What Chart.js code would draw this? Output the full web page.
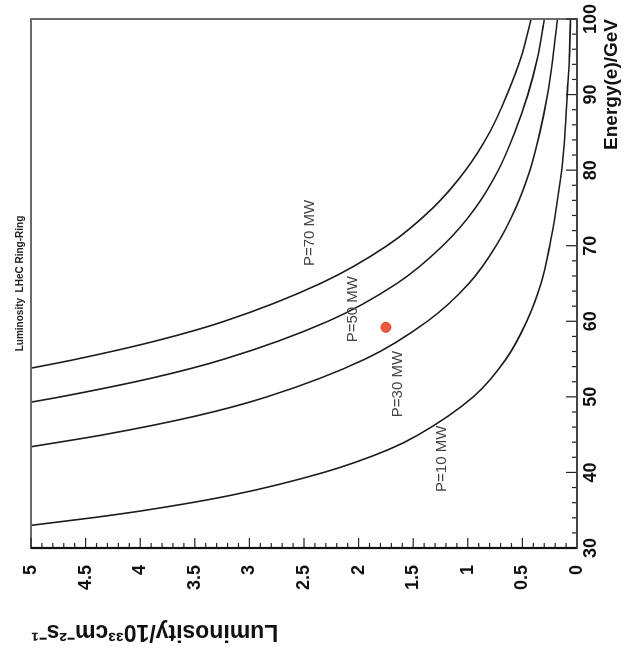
<!DOCTYPE html>
<html>
<head>
<meta charset="utf-8">
<script src="https://cdn.jsdelivr.net/npm/chart.js@4.4.1/dist/chart.umd.min.js"></script>
<style>
  html, body { margin: 0; padding: 0; background: #fff; overflow: hidden; }
  /* the chart is drawn upright, then the whole canvas is turned a quarter turn */
  #wrap {
    position: absolute; left: 0; top: 0;
    width: 657px; height: 626px;
    transform-origin: 0 0;
    transform: translate(0, 657px) rotate(-90deg);
  }
</style>
</head>
<body>
<div id="wrap"><canvas id="lumiChart" width="657" height="626"></canvas></div>
<script>
// values (energy in GeV, luminosity in 10^33 cm^-2 s^-1)
const energyP10 = [33.0, 34, 35, 37, 40, 43, 45, 50, 55, 60, 65, 70, 75, 80, 85, 90, 95, 100];
const lumiP10   = [5.00, 4.44, 3.95, 3.16, 2.32, 1.73, 1.45, 0.95, 0.65, 0.46, 0.33, 0.25, 0.19, 0.14, 0.11, 0.09, 0.07, 0.06];

const energyP30 = [43.4, 45, 47.5, 50, 55, 60, 65, 70, 75, 80, 85, 90, 95, 100];
const lumiP30   = [5.00, 4.33, 3.48, 2.84, 1.94, 1.37, 0.99, 0.74, 0.56, 0.43, 0.34, 0.27, 0.22, 0.18];

const energyP50 = [49.3, 50, 52.5, 55, 60, 65, 70, 75, 80, 85, 90, 95, 100];
const lumiP50   = [5.00, 4.73, 3.89, 3.23, 2.28, 1.65, 1.23, 0.93, 0.72, 0.57, 0.45, 0.36, 0.30];

const energyP70 = [53.8, 55, 57.5, 60, 65, 70, 75, 80, 85, 90, 95, 100];
const lumiP70   = [5.00, 4.58, 3.83, 3.23, 2.35, 1.74, 1.32, 1.02, 0.80, 0.64, 0.51, 0.42];

const curveNames = ["P=10 MW", "P=30 MW", "P=50 MW", "P=70 MW"];
// where each curve's label sits, in data units
const labelEnergy = [41.8, 51.7, 61.6, 71.7];
const labelLumi   = [1.24, 1.64, 2.05, 2.45];

const pointEnergy = [59.2];
const pointLumi   = [1.75];

const energyTicks = [30, 40, 50, 60, 70, 80, 90, 100];
const lumiTicks   = [0, 0.5, 1, 1.5, 2, 2.5, 3, 3.5, 4, 4.5, 5];

const FONT = '"Liberation Sans", Arial, Helvetica, sans-serif';
Chart.defaults.font.family = FONT;
Chart.defaults.color = "#111";

const curves = [
  { energy: energyP10, lumi: lumiP10 },
  { energy: energyP30, lumi: lumiP30 },
  { energy: energyP50, lumi: lumiP50 },
  { energy: energyP70, lumi: lumiP70 },
];

const datasets = curves.map((c, k) => ({
  label: curveNames[k],
  data: c.energy.map((e, i) => ({ x: e, y: c.lumi[i] })),
  showLine: true,
  borderColor: "#1b1b1b",
  borderWidth: 1.6,
  pointRadius: 0,
  cubicInterpolationMode: "monotone",
}));

datasets.push({
  label: "design point",
  data: pointEnergy.map((e, i) => ({ x: e, y: pointLumi[i] })),
  showLine: false,
  pointRadius: 5,
  backgroundColor: "#ec5b3d",
  borderColor: "#d9462b",
  borderWidth: 1,
});

// frame plus small inward ticks (every 2 GeV, every 0.1 in luminosity)
const frameTicks = {
  id: "frameTicks",
  afterDatasetsDraw(chart) {
    const { ctx, chartArea: a, scales: { x, y } } = chart;
    ctx.save();
    ctx.strokeStyle = "#6a6a6a";
    ctx.lineWidth = 2;
    ctx.strokeRect(a.left, a.top, a.right - a.left, a.bottom - a.top);

    ctx.strokeStyle = "#222";
    ctx.lineWidth = 1.2;
    for (let i = 0; i <= 35; i++) {
      const e = 30 + i * 2;
      const px = x.getPixelForValue(e);
      const len = e % 10 === 0 ? 11 : 5;
      ctx.beginPath();
      ctx.moveTo(px, a.bottom);
      ctx.lineTo(px, a.bottom - len);
      ctx.stroke();
    }
    for (let i = 0; i <= 50; i++) {
      const py = y.getPixelForValue(i / 10);
      const len = i % 5 === 0 ? 10 : 5;
      ctx.beginPath();
      ctx.moveTo(a.left, py);
      ctx.lineTo(a.left + len, py);
      ctx.stroke();
    }

    ctx.strokeStyle = "#111";
    ctx.lineWidth = 2.2;
    ctx.beginPath();
    ctx.moveTo(a.left, a.top);
    ctx.lineTo(a.left, a.bottom);
    ctx.stroke();
    ctx.strokeStyle = "#444";
    ctx.beginPath();
    ctx.moveTo(a.left, a.bottom);
    ctx.lineTo(a.right, a.bottom);
    ctx.stroke();

    // curve names
    ctx.fillStyle = "#444";
    ctx.font = "15px " + FONT;
    ctx.textAlign = "center";
    ctx.textBaseline = "middle";
    curveNames.forEach((name, k) => {
      ctx.fillText(name, x.getPixelForValue(labelEnergy[k]), y.getPixelForValue(labelLumi[k]));
    });
    ctx.restore();
  },
};

new Chart(document.getElementById("lumiChart"), {
  type: "scatter",
  data: { datasets: datasets },
  plugins: [frameTicks],
  options: {
    responsive: false,
    animation: false,
    layout: { padding: { left: 0, right: 19, top: 0, bottom: 0 } },
    plugins: {
      legend: { display: false },
      tooltip: { enabled: false },
      title: {
        display: true,
        text: "Luminosity  LHeC Ring-Ring",
        fullSize: false,
        color: "#222",
        font: { size: 10, weight: "bold" },
        padding: { top: 14, bottom: 5 },
      },
    },
    scales: {
      x: {
        type: "linear",
        min: 30,
        max: 100,
        grid: { display: false, drawTicks: false },
        border: { display: false },
        afterFit: (s) => { s.height = 49; },
        afterBuildTicks: (s) => { s.ticks = energyTicks.map((v) => ({ value: v })); },
        ticks: { padding: 3, autoSkip: false, maxRotation: 0, color: "#111", font: { size: 18, weight: "bold" } },
        title: {
          display: true,
          text: "Energy(e)/GeV",
          align: "end",
          color: "#111",
          font: { size: 19, weight: "bold" },
          padding: { top: 0, bottom: 3 },
        },
      },
      y: {
        type: "linear",
        min: 0,
        max: 5,
        grid: { display: false, drawTicks: false },
        border: { display: false },
        afterFit: (s) => { s.width = 109; },
        afterBuildTicks: (s) => { s.ticks = lumiTicks.map((v) => ({ value: v })); },
        ticks: { padding: 17, autoSkip: false, color: "#111", font: { size: 18, weight: "bold" }, callback: (v) => String(v) },
        title: {
          display: true,
          text: "Luminosity/10³³cm⁻²s⁻¹",
          align: "end",
          color: "#111",
          font: { size: 23, weight: "bold" },
          padding: { top: 12, bottom: 0 },
        },
      },
    },
  },
});
</script>
</body>
</html>
